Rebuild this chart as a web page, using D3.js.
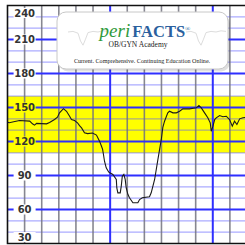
<!DOCTYPE html>
<html>
<head>
<meta charset="utf-8">
<script src="https://cdn.jsdelivr.net/npm/d3@7"></script>
<style>
  html, body { margin: 0; padding: 0; background: #fff; }
  svg { display: block; }
</style>
</head>
<body>
<svg id="chart" width="245" height="245"></svg>
<script>
// fetal heart rate trace, seconds vs bpm
const secs = [0, 1, 7, 13, 14.6, 15.8, 17, 22.8, 24.6, 27.5, 29.2, 30.4, 32.7, 34.5, 36.3, 37.4, 39.2, 40.9,
  42.1, 43.3, 45, 46.8, 49.7, 52, 53.8, 55, 55.6, 56.1, 56.7, 57.7, 59.2, 61.6, 63.6, 63.9, 64.5, 65.9,
  66.5, 67.1, 68, 68.8, 69.4, 70.4, 71.3, 73.3, 76.2, 77.2, 78.8, 83, 84, 86, 87.9, 89.9, 90.8, 91.8,
  93.7, 94.7, 96.7, 98.7, 100.6, 102.5, 106.4, 110.4, 111.9, 113.3, 115.2, 117.1, 118.5, 119.1, 120.1,
  121.1, 122, 124, 125.9, 127.9, 129.8, 131.4, 132.7, 134.1, 135.7, 137.6, 139.2]
const bpm = [137, 136.5, 138.5, 138, 135.6, 134.4, 136, 135.6, 136.8, 139.4, 141.4, 145.3, 149, 146.7, 142.3, 139.4, 138.5, 136.5,
  134, 132, 127.7, 127, 127.5, 125.7, 120.3, 115.6, 113, 108.5, 102.6, 96.8, 92.9, 90.9, 86.5, 79, 74.7, 74.7,
  80.6, 89.4, 90.9, 86.5, 79, 73.2, 70.3, 66, 66, 68.8, 70.3, 71.2, 74.7, 86.5, 104, 121.8, 132.4, 137.9,
  145.3, 146.7, 145.3, 145.3, 146.7, 148.8, 148.8, 149.7, 151.8, 149.7, 145.3, 140.9, 136.5, 129, 133.5,
  139.4, 140.9, 142.9, 141.8, 142.3, 139.4, 133.5, 137.9, 135, 140, 140.9, 141.2]

const bpmTicks = [30, 60, 90, 120, 150, 180, 210, 240]
const normalBand = [110, 160]

// faint trace printed inside the logo
const logoSecs = [0, 2, 4, 5, 6, 7, 8, 10, 12, 14, 16]
const logoBpm = [140, 141, 138, 125, 118, 128, 139, 141, 140, 142, 141]

const svg = d3.select("#chart")
const x = d3.scaleLinear().domain([0, 140]).range([7.5, 247])
const y = d3.scaleLinear().domain([30, 240]).range([243.5, 5.5])

svg.append("rect")
  .attr("x", x(0)).attr("y", y(normalBand[1]))
  .attr("width", 245 - x(0)).attr("height", y(normalBand[0]) - y(normalBand[1]))
  .attr("fill", "#ffff00")

// minor horizontal lines every 10 bpm
svg.selectAll(".hminor").data(d3.range(40, 240, 10).filter(d => d % 30 != 0))
  .enter().append("line")
  .attr("x1", x(0)).attr("x2", 245)
  .attr("y1", d => y(d)).attr("y2", d => y(d))
  .attr("stroke", "#5a5aff").attr("stroke-opacity", 0.5).attr("stroke-width", 1.3)

// vertical lines every 10 s
svg.selectAll(".vminor").data(d3.range(10, 141, 10).filter(d => d % 60 != 0))
  .enter().append("line")
  .attr("x1", d => x(d)).attr("x2", d => x(d))
  .attr("y1", y(240)).attr("y2", y(30))
  .attr("stroke", "#72727e").attr("stroke-opacity", 0.85).attr("stroke-width", 1.6)

svg.selectAll(".hmajor").data(bpmTicks.slice(1, -1))
  .enter().append("line")
  .attr("x1", x(0)).attr("x2", 245)
  .attr("y1", d => y(d)).attr("y2", d => y(d))
  .attr("stroke", "#2f2fff").attr("stroke-width", 2)

svg.selectAll(".vmajor").data([60, 120])
  .enter().append("line")
  .attr("x1", d => x(d)).attr("x2", d => x(d))
  .attr("y1", y(240)).attr("y2", y(30))
  .attr("stroke", "#2f2fff").attr("stroke-width", 2)

// frame
svg.append("path")
  .attr("d", "M245," + y(240) + "H" + x(0) + "V" + y(30) + "H245")
  .attr("fill", "none").attr("stroke", "#111").attr("stroke-width", 1.6)

const line = d3.line().x(d => x(d[0])).y(d => y(d[1]))
svg.append("path")
  .datum(secs.map((s, i) => [s, bpm[i]]))
  .attr("d", line)
  .attr("fill", "none").attr("stroke", "#1a1a1a").attr("stroke-width", 1.1)

// bpm labels
const lab = svg.selectAll(".lab").data(bpmTicks).enter().append("g")
  .attr("transform", d => {
    let yy = y(d)
    if (d == 240) yy += 7.5
    if (d == 30) yy -= 6.5
    return "translate(" + x(10) + "," + yy + ")"
  })
lab.append("rect")
  .attr("x", -11).attr("y", -5).attr("width", 22).attr("height", 10)
  .attr("fill", d => (d >= normalBand[0] && d <= normalBand[1]) ? "#ffff00" : "#fff")
lab.append("text")
  .attr("text-anchor", "middle").attr("dy", "0.36em")
  .attr("font-family", "DejaVu Sans").attr("font-weight", "bold").attr("font-size", 10)
  .attr("fill", "#333")
  .text(d => d)

// logo box
const logo = svg.append("g")
logo.append("rect")
  .attr("x", 58).attr("y", 13).attr("width", 171).attr("height", 57).attr("rx", 9)
  .attr("fill", "#000").attr("opacity", 0.12).attr("transform", "translate(1,1.5)")
logo.append("rect")
  .attr("x", 57).attr("y", 12).attr("width", 171).attr("height", 57).attr("rx", 9)
  .attr("fill", "#fff").attr("stroke", "#c8c8c8").attr("stroke-width", 1)

const lx1 = d3.scaleLinear().domain([0, 16]).range([68, 108])
const lx2 = d3.scaleLinear().domain([0, 16]).range([186, 226])
const ly = d3.scaleLinear().domain([110, 150]).range([50, 26])
const logoPts = logoSecs.map((s, i) => [s, logoBpm[i]])
;[lx1, lx2].forEach(sx => {
  logo.append("path")
    .attr("d", d3.line().x(d => sx(d[0])).y(d => ly(d[1]))(logoPts))
    .attr("fill", "none").attr("stroke", "#ddd").attr("stroke-width", 1)
})

const title = logo.append("text")
  .attr("x", 145).attr("y", 37).attr("text-anchor", "middle")
  .attr("font-family", "Liberation Serif")
title.append("tspan").text("peri")
  .attr("font-style", "italic").attr("font-size", 19).attr("fill", "#2f9a3c")
title.append("tspan").text("FACTS")
  .attr("font-weight", "bold").attr("font-size", 16.5).attr("fill", "#2b5f9e").attr("dx", 2)
title.append("tspan").text("®")
  .attr("font-size", 7).attr("fill", "#2b5f9e").attr("dy", -6)

logo.append("text")
  .attr("x", 138).attr("y", 47).attr("text-anchor", "middle")
  .attr("font-family", "Liberation Serif").attr("font-size", 7.5).attr("fill", "#222")
  .text("OB/GYN Academy")

logo.append("text")
  .attr("x", 142).attr("y", 63).attr("text-anchor", "middle")
  .attr("font-family", "Liberation Serif").attr("font-size", 6.1).attr("fill", "#222")
  .text("Current. Comprehensive. Continuing Education Online.")
</script>
</body>
</html>
